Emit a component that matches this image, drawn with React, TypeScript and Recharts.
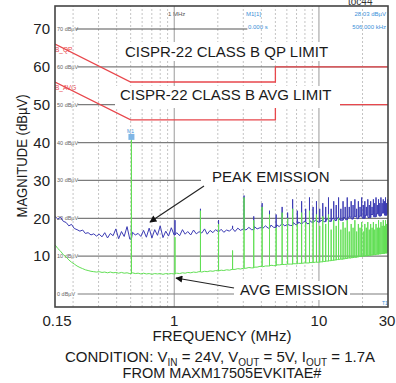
import React from 'react';
import { LineChart, Line, XAxis, YAxis, ReferenceLine, ReferenceDot } from 'recharts';

// ---------- axes / grid ----------
const xTicks = [0.15, 1, 10, 30];
const yTicks = [10, 20, 30, 40, 50, 60, 70];
const gridLevels = [0, 10, 20, 30, 40, 50, 60];
const topGridLevel = 70;
const minorFreqs = [0.2, 0.3, 0.4, 0.5, 0.6, 0.7, 0.8, 0.9, 2, 3, 4, 5, 6, 7, 8, 9, 20];
const majorFreqs = [1, 10];
const innerLabelLevels = [0, 10, 20, 30, 40, 50, 60, 70];

// ---------- CISPR-22 class B limits ----------
const limitFreq = [0.15, 0.5, 5, 5, 30];
const qpLimit = [66, 56, 56, 60, 60];
const avgLimit = [56, 46, 46, 50, 50];

// ---------- measured spectrum (scan grid) ----------
const scanFreq = [
  0.15, 0.157, 0.164, 0.171, 0.179, 0.187, 0.195, 0.204, 0.213, 0.223, 0.233, 0.243, 0.254, 0.266, 0.278, 0.29,
  0.303, 0.317, 0.331, 0.346, 0.362, 0.378, 0.395, 0.413, 0.432, 0.451, 0.472, 0.493, 0.515, 0.538, 0.563, 0.588,
  0.614, 0.642, 0.671, 0.701, 0.733, 0.766, 0.8, 0.836, 0.874, 0.913, 0.955, 0.998, 1.04, 1.09, 1.14, 1.19,
  1.24, 1.3, 1.36, 1.42, 1.48, 1.55, 1.62, 1.69, 1.77, 1.85, 1.93, 2.02, 2.11, 2.2, 2.3, 2.41,
  2.51, 2.63, 2.75, 2.87, 3.0, 3.13, 3.28, 3.42, 3.58, 3.74, 3.91, 4.08, 4.27, 4.46, 4.66, 4.87,
  5.09, 5.32, 5.56, 5.81, 6.07, 6.34, 6.63, 6.93, 7.24, 7.57, 7.91, 8.26, 8.64, 9.03, 9.43, 9.86,
  10.3, 10.8, 11.3, 11.8, 12.3, 12.9, 13.4, 14.0, 14.7, 15.3, 16.0, 16.8, 17.5, 18.3, 19.1, 20.0,
  20.9, 21.8, 22.8, 23.8, 24.9, 26.0, 27.2, 28.4, 29.7, 30,
];
const peakScan = [
  20.5, 19.8, 20.3, 19.2, 18.9, 18.0, 18.4, 17.3, 17.0, 16.6, 16.9, 16.0, 16.2, 15.6, 15.9, 15.3,
  15.8, 15.1, 16.2, 14.8, 16.0, 15.4, 17.2, 14.6, 16.5, 15.2, 17.8, 14.5, 16.3, 15.6, 16.0, 15.2,
  16.8, 15.0, 17.4, 14.8, 17.0, 15.5, 18.0, 14.9, 16.6, 15.3, 17.5, 15.6, 16.2, 15.4, 17.0, 15.8,
  16.5, 15.6, 16.9, 15.9, 16.4, 16.1, 17.2, 15.8, 16.8, 16.2, 17.0, 16.4, 17.1, 16.3, 16.9, 16.6,
  17.3, 16.5, 17.4, 16.8, 17.2, 16.9, 17.6, 17.0, 17.8, 17.2, 17.5, 17.3, 18.0, 17.4, 18.2, 17.6,
  18.3, 17.8, 18.6, 18.0, 18.4, 18.1, 18.9, 18.3, 19.0, 18.5, 19.2, 18.6, 19.4, 18.8, 19.5, 19.0,
  19.4, 19.1, 19.8, 19.2, 19.9, 19.4, 20.1, 19.5, 20.2, 19.6, 20.3, 19.8, 20.5, 19.9, 20.6, 20.0,
  20.8, 20.2, 21.0, 20.4, 21.2, 20.6, 21.4, 20.8, 21.5, 21.0,
];
const avgScan = [
  13.0, 12.0, 11.3, 10.4, 9.8, 9.0, 8.4, 7.9, 7.4, 7.0, 6.7, 6.4, 6.2, 6.0, 5.9, 5.8,
  5.9, 5.7, 5.8, 5.6, 5.8, 5.6, 5.7, 5.5, 5.7, 5.5, 5.6, 5.4, 5.6, 5.4, 5.5, 5.3,
  5.5, 5.3, 5.4, 5.2, 5.4, 5.3, 5.4, 5.2, 5.4, 5.3, 5.4, 5.3, 5.5, 5.4, 5.6, 5.5,
  5.7, 5.6, 5.8, 5.7, 5.9, 5.8, 6.0, 5.9, 6.1, 6.0, 6.2, 6.1, 6.3, 6.2, 6.4, 6.3,
  6.5, 6.5, 6.7, 6.6, 6.8, 6.8, 7.0, 6.9, 7.1, 7.1, 7.3, 7.2, 7.4, 7.4, 7.6, 7.5,
  7.7, 7.7, 7.8, 7.8, 7.9, 7.9, 8.0, 8.0, 8.1, 8.1, 8.2, 8.2, 8.3, 8.3, 8.4, 8.4,
  8.5, 8.6, 8.7, 8.8, 8.9, 9.0, 9.1, 9.2, 9.3, 9.4, 9.5, 9.6, 9.7, 9.8, 9.9, 10.0,
  10.1, 10.2, 10.3, 10.4, 10.5, 10.6, 10.7, 10.8, 10.9, 11.0,
];

// ---------- switching harmonics (n x 506 kHz) ----------
const harmFreq = [
  0.506, 1.012, 1.518, 2.024, 2.53, 3.036, 3.542, 4.048, 4.554, 5.06, 5.566, 6.072, 6.578, 7.084, 7.59,
  8.096, 8.602, 9.108, 9.614, 10.12, 10.626, 11.132, 11.638, 12.144, 12.65, 13.156, 13.662, 14.168, 14.674,
  15.18, 15.686, 16.192, 16.698, 17.204, 17.71, 18.216, 18.722, 19.228, 19.734, 20.24, 20.746, 21.252,
  21.758, 22.264, 22.77, 23.276, 23.782, 24.288, 24.794, 25.3, 25.806, 26.312, 26.818, 27.324, 27.83,
  28.336, 28.842, 29.348, 29.854,
];
const peakHarm = [
  18.0, 19.5, 22.5, 19.5, 18.0, 26.0, 20.5, 24.0, 22.0, 21.0, 23.0, 21.5, 25.0, 22.0, 24.5,
  22.5, 25.5, 23.0, 24.5, 22.5, 24.0, 23.0, 25.5, 22.5, 24.5, 23.5, 25.5, 22.5, 24.5,
  23.0, 25.5, 23.0, 24.5, 23.5, 25.0, 22.5, 24.5, 23.0, 25.5, 23.5, 24.5, 23.0,
  25.0, 23.5, 24.5, 23.0, 25.0, 24.0, 25.5, 23.5, 25.0, 24.0, 25.5, 24.0, 25.0,
  24.5, 25.5, 24.0, 25.0,
];
const avgHarm = [
  41.5, 15.0, 22.0, 18.5, 11.5, 25.5, 19.5, 23.0, 21.0, 17.5, 21.5, 20.0, 22.5, 18.5, 21.5,
  19.0, 22.0, 19.5, 21.0, 18.0, 20.5, 18.5, 21.0, 17.0, 19.5, 18.0, 20.0, 17.0, 19.0,
  17.5, 19.5, 16.5, 18.5, 17.5, 19.5, 16.5, 18.5, 17.5, 19.0, 16.5, 18.5, 17.5,
  19.0, 17.0, 18.5, 17.5, 19.0, 17.0, 18.5, 17.5, 19.5, 17.5, 19.0, 18.0, 19.5,
  18.0, 19.5, 18.5, 19.5,
];
const markerFreq = 0.506;
const markerLevel = 41.5;

// ---------- build series tables ----------
type Pt = { f: number; v: number };
function buildSpectrum(freqs: number[], vals: number[], spikeF: number[], spikeV: number[]): Pt[] {
  const out: Pt[] = [];
  let j = 0;
  for (let i = 0; i < freqs.length; i++) {
    while (j < spikeF.length && spikeF[j] < freqs[i]) {
      const foot = out.length ? out[out.length - 1].v : vals[i];
      out.push({ f: spikeF[j], v: foot }, { f: spikeF[j], v: spikeV[j] }, { f: spikeF[j], v: foot });
      j++;
    }
    out.push({ f: freqs[i], v: vals[i] });
  }
  return out;
}
const peakData = buildSpectrum(scanFreq, peakScan, harmFreq, peakHarm);
const avgData = buildSpectrum(scanFreq, avgScan, harmFreq, avgHarm);
const qpData = limitFreq.map((f, i) => ({ f, v: qpLimit[i] }));
const avgLimData = limitFreq.map((f, i) => ({ f, v: avgLimit[i] }));

// ---------- layout constants ----------
const W = 396;
const H = 383;
const PL = 55, PT = 6, PR = 388, PB = 307;
const Y0 = 294; // pixel of 0 dB
const PX_PER_DB = 3.7857;
const FONT = '"Liberation Sans", Arial, Helvetica, sans-serif';
const BLUE = '#3c3cb4';
const GREEN = '#62df55';
const RED = '#e8474c';
const MARK = '#3a8fd8';

const XTick = (props: any) => {
  const { x, y, payload } = props;
  const v = payload.value;
  const dx = v === 30 ? -1 : v === 0.15 ? 2 : 0;
  return (
    <text x={x + dx} y={y} dy="0.71em" textAnchor="middle" fontSize={15} fill="#222" fontFamily={FONT}>
      {String(v)}
    </text>
  );
};

const YTick = (props: any) => {
  const { x, y, payload } = props;
  return (
    <text x={x} y={y} dy="0.355em" textAnchor="end" fontSize={15} fill="#222" fontFamily={FONT}>
      {String(payload.value)}
    </text>
  );
};

export default function App() {
  return (
    <div style={{ position: 'absolute', left: 0, top: 0, width: W, height: H, background: '#fff', overflow: 'hidden' }}>
      {/* under-layer: small instrument texts */}
      <svg width={W} height={H} style={{ position: 'absolute', left: 0, top: 0 }}>
        {innerLabelLevels.map((l) => (
          <text key={l} x={57} y={Y0 - l * PX_PER_DB + 2} fontSize={5.5} fill="#666" fontFamily={FONT}>
            {`${l} dBµV`}
          </text>
        ))}
        <text x={55} y={52} fontSize={6.5} fill={RED} fontFamily={FONT}>B_QP</text>
        <text x={55} y={90} fontSize={6.5} fill={RED} fontFamily={FONT}>B_AVG</text>
        <text x={168} y={16} fontSize={6} fill="#555" fontFamily={FONT}>1 MHz</text>
        <text x={246} y={16} fontSize={6} fill={MARK} fontFamily={FONT}>M1[1]</text>
        <text x={248} y={29} fontSize={6} fill={MARK} fontFamily={FONT}>0.000 s</text>
        <text x={386} y={16} fontSize={6} fill={MARK} textAnchor="end" fontFamily={FONT}>28.03 dBµV</text>
        <text x={386} y={29} fontSize={6} fill={MARK} textAnchor="end" fontFamily={FONT}>506.000 kHz</text>
        <text x={127} y={133} fontSize={5} fill={MARK} fontFamily={FONT}>M1</text>
        <text x={382} y={305} fontSize={5} fill={MARK} fontFamily={FONT}>T1</text>
      </svg>

      <div style={{ position: 'absolute', left: 0, top: 0 }}>
        <LineChart width={W} height={H} margin={{ top: PT, right: W - PR, bottom: 0, left: 0 }}>
          <XAxis
            dataKey="f"
            type="number"
            scale="log"
            domain={[0.15, 30]}
            allowDataOverflow
            ticks={xTicks}
            height={H - PB}
            axisLine={false}
            tickLine={false}
            tickSize={0}
            tickMargin={8}
            tick={<XTick />}
            interval={0}
          />
          <YAxis
            type="number"
            domain={[-3.43, 76.07]}
            allowDataOverflow
            ticks={yTicks}
            width={PL}
            axisLine={false}
            tickLine={false}
            tickSize={0}
            tickMargin={5}
            interval={0}
            tick={<YTick />}
          />
          {minorFreqs.map((f) => (
            <ReferenceLine key={'v' + f} x={f} stroke="#c4c4c4" strokeDasharray="2 2" strokeWidth={1} />
          ))}
          {majorFreqs.map((f) => (
            <ReferenceLine key={'m' + f} x={f} stroke="#9a9a9a" strokeWidth={1} />
          ))}
          {gridLevels.map((l) => (
            <ReferenceLine key={'h' + l} segment={[{ x: 0.215, y: l }, { x: 30, y: l }]} stroke="#7c7c7c" strokeWidth={1.2} />
          ))}
          <ReferenceLine segment={[{ x: 0.21, y: topGridLevel }, { x: 3.2, y: topGridLevel }]} stroke="#555" strokeWidth={1.2} />
          <Line data={qpData} dataKey="v" type="linear" stroke={RED} strokeWidth={1.3} dot={false} isAnimationActive={false} />
          <Line data={avgLimData} dataKey="v" type="linear" stroke={RED} strokeWidth={1.3} dot={false} isAnimationActive={false} />
          <Line data={peakData} dataKey="v" type="linear" stroke={BLUE} strokeWidth={1} dot={false} isAnimationActive={false} />
          <Line data={avgData} dataKey="v" type="linear" stroke={GREEN} strokeWidth={1} dot={false} isAnimationActive={false} />
          <ReferenceDot
            x={markerFreq}
            y={markerLevel}
            r={3}
            shape={(p: any) => <rect x={p.cx - 3} y={p.cy - 3} width={6} height={6} fill="#7fb6e6" />}
          />
        </LineChart>
      </div>

      {/* over-layer: frame, annotations, titles */}
      <svg width={W} height={H} style={{ position: 'absolute', left: 0, top: 0, pointerEvents: 'none' }}>
        <defs>
          <marker id="ah" viewBox="0 0 10 10" refX="9" refY="5" markerWidth="9" markerHeight="7" orient="auto" markerUnits="userSpaceOnUse">
            <path d="M0,0 L10,5 L0,10 z" fill="#111" />
          </marker>
        </defs>
        <rect x={PL} y={PT} width={PR - PL} height={PB - PT} fill="none" stroke="#444" strokeWidth={1.6} />
        <text x={348} y={5} fontSize={10} fill="#333" fontFamily={FONT}>toc44</text>

        <rect x={121} y={42} width={210} height={19} fill="#fff" />
        <text x={125} y={57} fontSize={15} fill="#1a1a1a" fontFamily={FONT}>CISPR-22 CLASS B QP LIMIT</text>
        <rect x={115} y={86} width={225} height={22} fill="#fff" />
        <text x={120} y={100} fontSize={15} fill="#1a1a1a" fontFamily={FONT}>CISPR-22 CLASS B AVG LIMIT</text>

        <rect x={201} y={168} width={139} height={21} fill="#fff" />
        <text x={212} y={182} fontSize={15} fill="#1a1a1a" fontFamily={FONT}>PEAK EMISSION</text>
        <line x1={204} y1={186} x2={150} y2={222} stroke="#222" strokeWidth={1.2} markerEnd="url(#ah)" />

        <rect x={234} y={281} width={116} height={19} fill="#fff" />
        <text x={240} y={295} fontSize={15} fill="#1a1a1a" fontFamily={FONT}>AVG EMISSION</text>
        <line x1={234} y1={288} x2={176} y2={278} stroke="#222" strokeWidth={1.2} markerEnd="url(#ah)" />

        <text transform="translate(27,156) rotate(-90)" textAnchor="middle" fontSize={15} fill="#1a1a1a" fontFamily={FONT} textLength={123} lengthAdjust="spacingAndGlyphs">
          MAGNITUDE (dBµV)
        </text>
        <text x={222} y={341} textAnchor="middle" fontSize={15} fill="#1a1a1a" fontFamily={FONT}>FREQUENCY (MHz)</text>
        <text x={220} y={362} textAnchor="middle" fontSize={15} fill="#1a1a1a" fontFamily={FONT}>
          CONDITION: V<tspan fontSize={10} baselineShift="-4">IN</tspan>
          <tspan> = 24V, V</tspan>
          <tspan fontSize={10} baselineShift="-4">OUT</tspan>
          <tspan> = 5V, I</tspan>
          <tspan fontSize={10} baselineShift="-4">OUT</tspan>
          <tspan> = 1.7A</tspan>
        </text>
        <text x={222} y={378} textAnchor="middle" fontSize={14.5} fill="#1a1a1a" fontFamily={FONT}>FROM MAXM17505EVKITAE#</text>
      </svg>
    </div>
  );
}
